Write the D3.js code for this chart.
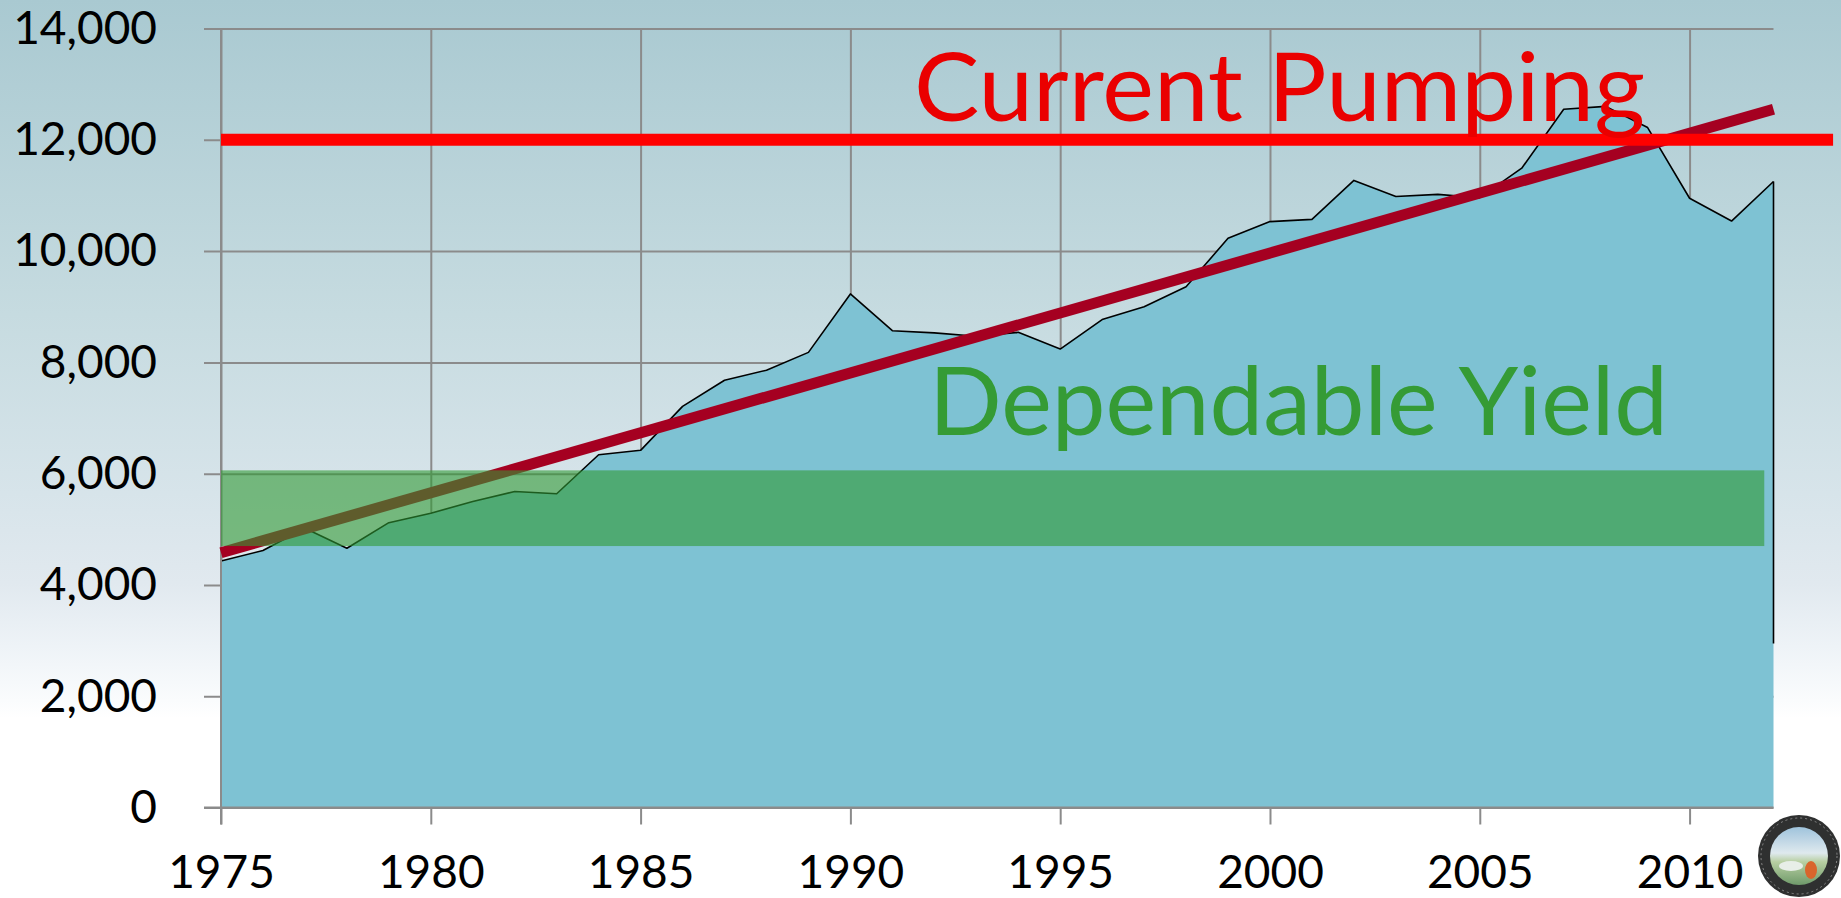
<!DOCTYPE html>
<html>
<head>
<meta charset="utf-8">
<script src="https://cdn.jsdelivr.net/npm/d3@7"></script>
<style>
    body { margin: 0; overflow: hidden; background: #fff; }
    svg { display: block; }
</style>
</head>
<body>
<svg id="chart" width="1841" height="898"></svg>
<script>
// Annual groundwater pumping (acre-feet)
const years = [1975, 1976, 1977, 1978, 1979, 1980, 1981, 1982, 1983, 1984,
               1985, 1986, 1987, 1988, 1989, 1990, 1991, 1992, 1993, 1994,
               1995, 1996, 1997, 1998, 1999, 2000, 2001, 2002, 2003, 2004,
               2005, 2006, 2007, 2008, 2009, 2010, 2011, 2012];
const pumping = [4430, 4620, 5020, 4660, 5120, 5290, 5500, 5680, 5640, 6340,
                 6420, 7210, 7680, 7860, 8180, 9230, 8570, 8530, 8470, 8540,
                 8240, 8770, 9000, 9360, 10230, 10530, 10570, 11270, 10980, 11020,
                 10960, 11490, 12550, 12600, 12220, 10950, 10540, 11250];

// linear trend of pumping
const trendYears = [1975, 2012];
const trendValues = [4580, 12550];

// dependable yield band
const yieldYears = [1975, 2011.78];
const yieldRange = [4700, 6060];

// current pumping level
const currentYears = [1975, 2013.42];
const currentPumping = 12000;

// the black outline on the right edge stops short of the axis
const edgeBottom = 2950;

const yTicks = [0, 2000, 4000, 6000, 8000, 10000, 12000, 14000];
const xTicks = [1975, 1980, 1985, 1990, 1995, 2000, 2005, 2010];

let width = 1841, height = 898;
let plot = {left: 221, right: 1773.5, top: 28.5, bottom: 807.6};
let tickLen = 17;
let gridColor = "#8b8b8b";
let font = "Lato, 'Open Sans', sans-serif";

let svg = d3.select("#chart");

let x = d3.scaleLinear().domain([1975, 2012]).range([plot.left, plot.right]);
let y = d3.scaleLinear().domain([0, 14000]).range([plot.bottom, plot.top]);

// background gradient
let defs = svg.append("defs");
let bg = defs.append("linearGradient").attr("id", "bg")
    .attr("x1", 0).attr("y1", 0).attr("x2", 0).attr("y2", 1);
[["0%", "#a9c9d1"], ["35%", "#c6dbe0"], ["55%", "#d7e4ea"], ["65%", "#e1e9ef"],
 ["72%", "#eef3f7"], ["78%", "#fafcfd"], ["80%", "#ffffff"], ["100%", "#ffffff"]]
    .forEach(s => bg.append("stop").attr("offset", s[0]).attr("stop-color", s[1]));

svg.append("rect").attr("width", width).attr("height", height).attr("fill", "url(#bg)");

// horizontal gridlines + y labels
let yAxis = svg.append("g")
    .attr("transform", "translate(" + (plot.left - tickLen) + ",0)")
    .call(d3.axisLeft(y).tickValues(yTicks)
        .tickSize(-(plot.right - plot.left + tickLen))
        .tickPadding(47)
        .tickFormat(d3.format(",")));
yAxis.select(".domain").remove();

// vertical gridlines + x labels
let xAxis = svg.append("g")
    .attr("transform", "translate(0," + (plot.bottom + tickLen) + ")")
    .call(d3.axisBottom(x).tickValues(xTicks)
        .tickSize(-(plot.bottom + tickLen - plot.top))
        .tickPadding(31)
        .tickFormat(d3.format("d")));
xAxis.select(".domain").remove();

[yAxis, xAxis].forEach(g => {
    g.attr("font-family", font).attr("font-size", 46);
    g.selectAll("line").attr("stroke", gridColor).attr("stroke-width", 2);
    g.selectAll("text").attr("fill", "#000");
});

let data = years.map((d, i) => ({year: d, value: pumping[i]}));

// pumping area
svg.append("path")
    .datum(data)
    .attr("fill", "#7ec2d3")
    .attr("d", d3.area().x(d => x(d.year)).y0(y(0)).y1(d => y(d.value)));

svg.append("path")
    .datum(data)
    .attr("fill", "none")
    .attr("stroke", "#000")
    .attr("stroke-width", 1.6)
    .attr("stroke-linejoin", "round")
    .attr("d", d3.line().x(d => x(d.year)).y(d => y(d.value)));

let last = data[data.length - 1];
svg.append("line")
    .attr("x1", x(last.year)).attr("x2", x(last.year))
    .attr("y1", y(last.value)).attr("y2", y(edgeBottom))
    .attr("stroke", "#000").attr("stroke-width", 1.6);

// axis lines stay visible over the area
svg.append("line")
    .attr("x1", x(1975)).attr("x2", x(1975))
    .attr("y1", y(14000)).attr("y2", y(0) + tickLen)
    .attr("stroke", gridColor).attr("stroke-width", 2);
svg.append("line")
    .attr("x1", plot.left - tickLen).attr("x2", plot.right)
    .attr("y1", y(0)).attr("y2", y(0))
    .attr("stroke", gridColor).attr("stroke-width", 2);

// trend line
svg.append("line")
    .attr("x1", x(trendYears[0])).attr("y1", y(trendValues[0]))
    .attr("x2", x(trendYears[1])).attr("y2", y(trendValues[1]))
    .attr("stroke", "#a50021")
    .attr("stroke-width", 11);

// dependable yield band
svg.append("rect")
    .attr("x", x(yieldYears[0]))
    .attr("width", x(yieldYears[1]) - x(yieldYears[0]))
    .attr("y", y(yieldRange[1]))
    .attr("height", y(yieldRange[0]) - y(yieldRange[1]))
    .attr("fill", "#319a33")
    .attr("fill-opacity", 0.6);

// current pumping line
svg.append("line")
    .attr("x1", x(currentYears[0])).attr("x2", x(currentYears[1]))
    .attr("y1", y(currentPumping)).attr("y2", y(currentPumping))
    .attr("stroke", "#ff0000")
    .attr("stroke-width", 12);

// annotations
svg.append("text")
    .attr("x", 914).attr("y", 121)
    .attr("font-family", font).attr("font-size", 95)
    .attr("textLength", 731).attr("lengthAdjust", "spacingAndGlyphs")
    .attr("fill", "#ea0000")
    .text("Current Pumping");

svg.append("text")
    .attr("x", 929).attr("y", 435)
    .attr("font-family", font).attr("font-size", 95)
    .attr("textLength", 739).attr("lengthAdjust", "spacingAndGlyphs")
    .attr("fill", "#359b35")
    .text("Dependable Yield");

// county seal in the corner (rough)
let seal = svg.append("g").attr("transform", "translate(1799,856)");
let sky = defs.append("linearGradient").attr("id", "sealSky")
    .attr("x1", 0).attr("y1", 0).attr("x2", 0).attr("y2", 1);
[["0%", "#9fc3dc"], ["45%", "#dfe9ee"], ["60%", "#b8cfa2"], ["100%", "#6f9a6a"]]
    .forEach(s => sky.append("stop").attr("offset", s[0]).attr("stop-color", s[1]));
seal.append("circle").attr("r", 41).attr("fill", "#2f3030");
seal.append("circle").attr("r", 38).attr("fill", "none")
    .attr("stroke", "#8a8a8a").attr("stroke-width", 1).attr("stroke-dasharray", "2,3");
seal.append("circle").attr("r", 29).attr("fill", "url(#sealSky)");
seal.append("ellipse").attr("cx", 12).attr("cy", 14).attr("rx", 6).attr("ry", 9).attr("fill", "#d9652c");
seal.append("ellipse").attr("cx", -8).attr("cy", 10).attr("rx", 12).attr("ry", 5).attr("fill", "#e8eee8");
</script>
</body>
</html>
